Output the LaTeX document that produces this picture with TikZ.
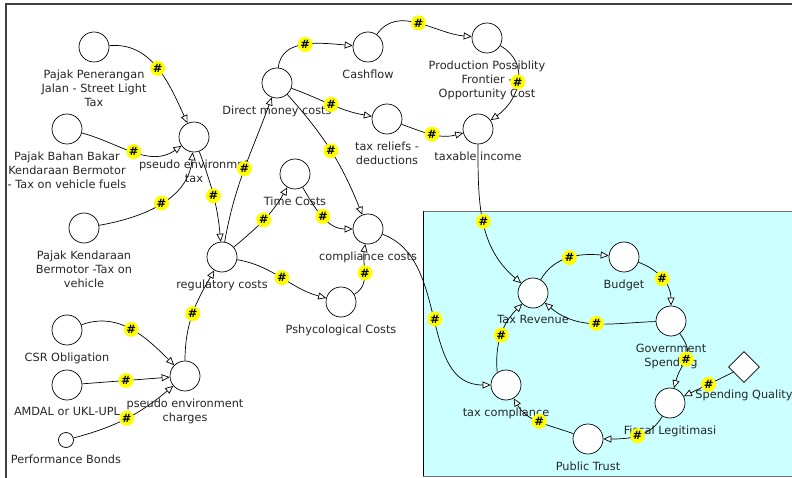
\documentclass[tikz,border=0pt]{standalone}
\usepackage{fontspec}
\setmainfont{DejaVu Sans}
\usetikzlibrary{arrows.meta,shapes.geometric}
\definecolor{boxcyan}{RGB}{204,255,255}
\definecolor{hashyellow}{RGB}{255,255,0}

\begin{document}
\begin{tikzpicture}[x=1pt, y=1pt, >={Triangle[length=8pt,width=7pt,fill=white]},
                    line width=0.7pt, label distance=7pt,
                    main node/.style={circle,draw,fill=white,minimum size=30pt,inner sep=0pt},
                    small node/.style={circle,draw,fill=white,minimum size=15pt,inner sep=0pt},
                    gate node/.style={diamond,draw,fill=white,minimum size=31pt,inner sep=0pt},
                    hash node/.style={circle,fill=hashyellow,minimum size=15pt,inner sep=0pt,
                                      text=black,font=\fontsize{11.5}{11.5}\selectfont\bfseries},
                    every label/.style={align=center,inner sep=0pt,text=black!85,
                                        font=\fontsize{11.3}{14}\selectfont}]

  \clip (0,0) rectangle (792,-478);

  % frame and the revenue box
  \draw[fill=boxcyan, draw=black!55] (423,-211) rectangle (800,-476);
  \draw[black] (423,-211) -- (423,-476);
  \draw[black!75, line width=1.4pt] (6,-490) -- (6,-4) -- (800,-4);

  % taxes and charges
  \node[main node, label=below:{Pajak Penerangan\\Jalan - Street Light\\Tax}] (pjl) at (94,-47) {};
  \node[main node, label=below:{Pajak Bahan Bakar\\Kendaraan Bermotor\\- Tax on vehicle fuels}] (pbb) at (67,-129) {};
  \node[main node, label=below:{Pajak Kendaraan\\Bermotor -Tax on\\vehicle}] (pkb) at (84,-228) {};
  \node[main node, label=below:{pseudo environmnt\\tax}] (pet) at (194,-137) {};
  \node[main node, label=below:{CSR Obligation}] (csr) at (67,-330) {};
  \node[main node, label=below:{AMDAL or UKL-UPL}] (amdal) at (67,-385) {};
  \node[small node, label=below:{Performance Bonds}] (pb) at (66,-440) {};
  \node[main node, label=below:{pseudo environment\\charges}] (pec) at (185,-376) {};

  % costs
  \node[main node, label=below:{regulatory costs}] (reg) at (222,-257) {};
  \node[main node, label=below:{Direct money costs}] (dmc) at (277,-83) {};
  \node[main node, label=below:{Cashflow}] (cf) at (368,-47) {};
  \node[main node, label=below:{Production Possiblity\\Frontier -\\Opportunity Cost}] (ppf) at (487,-38) {};
  \node[main node, label=below:{tax reliefs -\\deductions}] (trd) at (387,-119) {};
  \node[main node, label=below:{taxable income}] (ti) at (478,-129) {};
  \node[main node, label=below:{Time Costs}] (tco) at (295,-174) {};
  \node[main node, label=below:{compliance costs}] (cc) at (368,-229) {};
  \node[main node, label=below:{Pshycological Costs}] (pc) at (341,-302) {};

  % revenue loop
  \node[main node, label=below:{Tax Revenue}] (tr) at (533,-293) {};
  \node[main node, label=below:{Budget}] (bud) at (624,-257) {};
  \node[main node, label=below:{Government\\Spending}] (gs) at (671,-321) {};
  \node[gate node, label=below:{Spending Quality}] (sq) at (744,-367) {};
  \node[main node, label=below:{Fiscal Legitimasi}] (fl) at (670,-403) {};
  \node[main node, label=below:{Public Trust}] (pt) at (588,-439) {};
  \node[main node, label=below:{tax compliance}] (tcomp) at (506,-385) {};

  \path[->]
    (pjl) edge [out=5,in=115] node[hash node] {\#} (pet)
    (pbb) edge [out=-15,in=215] node[hash node] {\#} (pet)
    (pkb) edge [out=10,in=-95] node[hash node] {\#} (pet)
    (pet) edge [out=-70,in=95] node[hash node] {\#} (reg)
    (pec) edge [out=90,in=-120] node[hash node] {\#} (reg)
    (csr) edge [out=20,in=135] node[hash node] {\#} (pec)
    (amdal) edge node[hash node] {\#} (pec)
    (pb) edge [out=15,in=-140] node[hash node] {\#} (pec)
    (reg) edge [out=80,in=-110] node[hash node] {\#} (dmc)
          edge [out=40,in=-120] node[hash node] {\#} (tco)
          edge [out=-10,in=165] node[hash node] {\#} (pc)
    (tco) edge [out=-60,in=180] node[hash node] {\#} (cc)
    (pc) edge [out=30,in=-100] node[hash node] {\#} (cc)
    (dmc) edge [bend left=10] node[hash node] {\#} (cc)
          edge [out=85,in=175] node[hash node] {\#} (cf)
          edge [out=-20,in=170] node[hash node] {\#} (trd)
    (cf) edge [out=55,in=175] node[hash node] {\#} (ppf)
    (ppf) edge [out=-30,in=35,looseness=1.2] node[hash node] {\#} (ti)
    (trd) edge [out=-20,in=195] node[hash node] {\#} (ti)
    (ti) edge [out=-90,in=140] node[hash node] {\#} (tr)
    (cc) edge [out=-20,in=180] node[hash node] {\#} (tcomp)
    (tr) edge [out=60,in=175] node[hash node] {\#} (bud)
    (bud) edge [out=-20,in=90] node[hash node] {\#} (gs)
    (gs) edge [out=182,in=-40] node[hash node] {\#} (tr)
         edge [out=-55,in=75,looseness=1.4] node[hash node] {\#} (fl)
    (tcomp.125) edge [out=95,in=-135] node[hash node] {\#} (tr)
    (sq) edge node[hash node] {\#} (fl)
    (fl) edge [out=-120,in=0] node[hash node] {\#} (pt)
    (pt) edge [out=160,in=-60] node[hash node] {\#} (tcomp);
\end{tikzpicture}
\end{document}
